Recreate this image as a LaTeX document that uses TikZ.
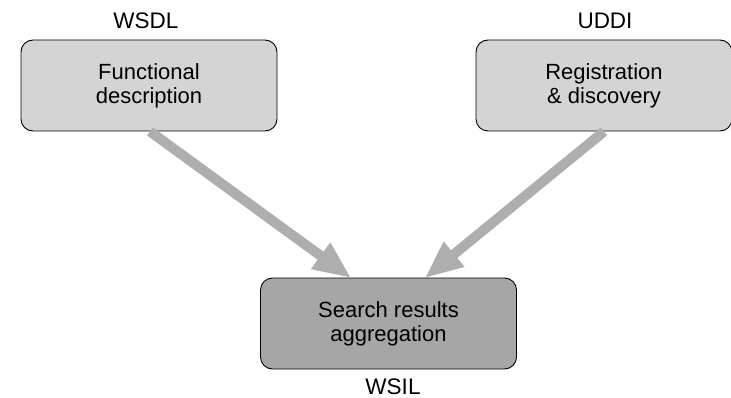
\documentclass[tikz,border=0pt]{standalone}
\usepackage{fontspec}
\setmainfont{Liberation Sans}
\usetikzlibrary{arrows.meta}
\definecolor{lightbox}{HTML}{D4D4D4}
\definecolor{darkbox}{HTML}{A6A6A6}
\definecolor{arrowgray}{HTML}{AEAEAE}
\begin{document}
\begin{tikzpicture}[x=1pt,y=1pt,
  box/.style={draw=black, line width=0.9pt, rounded corners=12pt, minimum width=256pt, minimum height=91pt, inner sep=0pt, align=center, font=\fontsize{22}{24}\selectfont},
  lbl/.style={font=\fontsize{22.5}{24}\selectfont, inner sep=0pt},
  bigarrow/.style={draw=arrowgray, line width=10pt, -{Triangle[length=38pt,width=30pt]}, shorten >=-1pt}
]
\useasboundingbox (0,0) rectangle (731,-398);
\node[box, fill=lightbox] (func) at (149,-85.5) {Functional\\description};
\node[box, fill=lightbox] (reg) at (604,-85.5) {Registration\\\& discovery};
\node[box, fill=darkbox] (agg) at (388.5,-323.5) {Search results\\aggregation};
\node[lbl] (wsdl) at (146,-21) {WSDL};
\node[lbl] (uddi) at (605,-21) {UDDI};
\node[lbl] (wsil) at (393,-387) {WSIL};
\draw[bigarrow] ([xshift=1pt]func.south) -- ([xshift=-38pt]agg.north);
\draw[bigarrow] (reg.south) -- ([xshift=37pt]agg.north);
\end{tikzpicture}
\end{document}
